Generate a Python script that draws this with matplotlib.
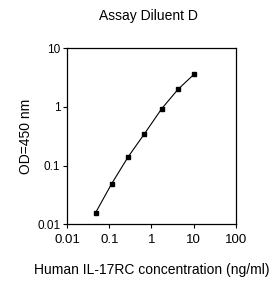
import matplotlib
matplotlib.use("Agg")
import matplotlib.pyplot as plt
from matplotlib.ticker import FixedLocator, NullLocator

plt.rcParams['font.family'] = ['Liberation Sans', 'DejaVu Sans']

conc = [0.0473, 0.1135, 0.281, 0.675, 1.746, 4.26, 10.4]
od = [0.0158, 0.0492, 0.142, 0.346, 0.934, 2.0, 3.65]
xticks = [0.01, 0.1, 1, 10, 100]
xticklabels = ["0.01", "0.1", "1", "10", "100"]
yticks = [0.01, 0.1, 1, 10]
yticklabels = ["0.01", "0.1", "1", "10"]

fig = plt.figure(figsize=(2.8, 2.82), dpi=100)
ax = fig.add_axes([0.240, 0.2046, 0.602, 0.624])
ax.plot(conc, od, color='black', linewidth=0.8, marker='s', markersize=3.2)
ax.set_xscale('log')
ax.set_yscale('log')
ax.set_xlim(0.01, 100)
ax.set_ylim(0.01, 10)
ax.xaxis.set_major_locator(FixedLocator(xticks))
ax.yaxis.set_major_locator(FixedLocator(yticks))
ax.xaxis.set_minor_locator(NullLocator())
ax.yaxis.set_minor_locator(NullLocator())
ax.set_xticklabels(xticklabels)
ax.set_yticklabels(yticklabels)
ax.tick_params(axis='x', direction='out', length=3, width=0.8, labelsize=9.5, pad=4)
ax.tick_params(axis='y', direction='out', length=3, width=0.8, labelsize=8.5, pad=2)
for s in ax.spines.values():
    s.set_linewidth(0.9)
ax.set_xlabel("Human IL-17RC concentration (ng/ml)", fontsize=10, labelpad=12)
ax.set_ylabel("OD=450 nm", fontsize=10, labelpad=3)
fig.text(0.53, 0.945, "Assay Diluent D", ha='center', va='center', fontsize=10)
fig.savefig("out.png", dpi=100)
